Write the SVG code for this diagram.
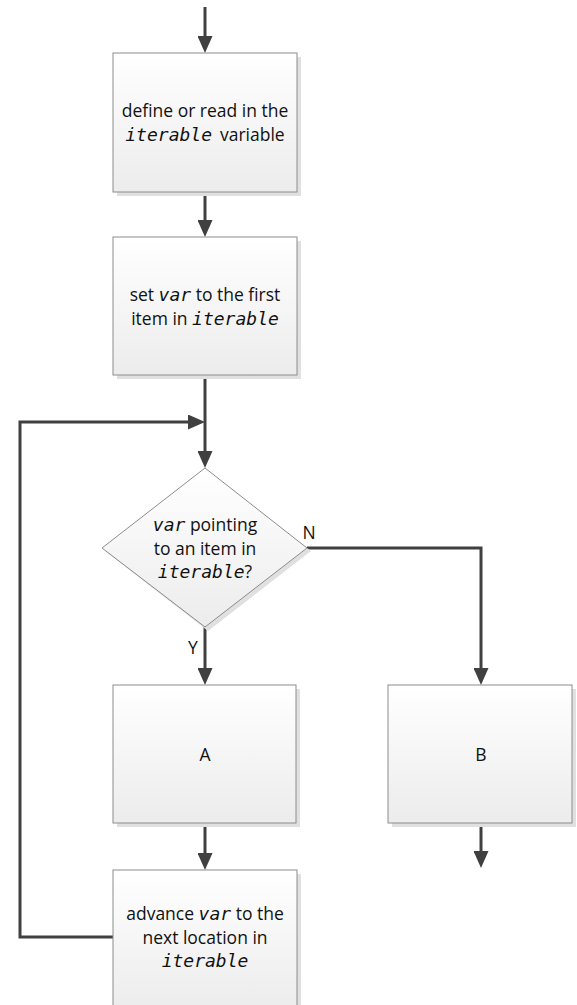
<svg xmlns="http://www.w3.org/2000/svg" width="577" height="1005" viewBox="0 0 577 1005">
  <style>
    .box { fill: url(#boxFill); stroke: #8c8c8c; stroke-width: 1; }
    .shadow { fill: #e0e0e0; }
    .wire { fill: none; stroke: #404040; stroke-width: 3; }
    .lbl { font-family: "Open Sans", "Liberation Sans", Arial, sans-serif; font-size: 17.5px; fill: #111; text-anchor: middle; }
    .code { font-family: "DejaVu Sans Mono", "Liberation Mono", monospace; font-size: 18px; font-style: italic; }
  </style>
  <defs>
    <linearGradient id="boxFill" x1="0" y1="0" x2="0" y2="1">
      <stop offset="0" stop-color="#ffffff"/>
      <stop offset="1" stop-color="#ececec"/>
    </linearGradient>
    <marker id="head" markerUnits="userSpaceOnUse" markerWidth="17" markerHeight="15" refX="7" refY="7.5" orient="auto">
      <path d="M0,0 L17,7.5 L0,15 z" fill="#404040"/>
    </marker>
  </defs>

  <g id="connectors">
    <path class="wire" d="M205,7 V43" marker-end="url(#head)"/>
    <path class="wire" d="M205,192 V227" marker-end="url(#head)"/>
    <path class="wire" d="M205,375 V458" marker-end="url(#head)"/>
    <path class="wire" d="M113,937 H20 V422 H195" marker-end="url(#head)"/>
    <path class="wire" d="M205,627 V675" marker-end="url(#head)"/>
    <path class="wire" d="M307,548 H481 V675" marker-end="url(#head)"/>
    <path class="wire" d="M205,823 V860" marker-end="url(#head)"/>
    <path class="wire" d="M481,823 V858" marker-end="url(#head)"/>
    <text class="lbl" x="193" y="654">Y</text>
    <text class="lbl" x="309" y="539">N</text>
  </g>

  <g id="read-iterable">
    <rect class="shadow" x="117" y="57" width="184" height="139"/>
    <rect class="box" x="113" y="53" width="184" height="139"/>
    <text class="lbl" x="205" y="117">define or read in the</text>
    <text class="lbl" x="205" y="141"><tspan class="code">iterable</tspan><tspan dx="8">variable</tspan></text>
  </g>

  <g id="set-first">
    <rect class="shadow" x="117" y="241" width="184" height="138"/>
    <rect class="box" x="113" y="237" width="184" height="138"/>
    <text class="lbl" x="205" y="301">set <tspan class="code">var</tspan> to the first</text>
    <text class="lbl" x="205" y="325">item in <tspan class="code">iterable</tspan></text>
  </g>

  <g id="test-item">
    <polygon class="shadow" points="208,472 311,551 208,631 105,551"/>
    <polygon class="box" points="205,468 307,548 205,627 102,548"/>
    <text class="lbl" x="205" y="531"><tspan class="code">var</tspan> pointing</text>
    <text class="lbl" x="205" y="555">to an item in</text>
    <text class="lbl" x="205" y="578"><tspan class="code">iterable</tspan>?</text>
  </g>

  <g id="step-a">
    <rect class="shadow" x="117" y="689" width="183" height="138"/>
    <rect class="box" x="113" y="685" width="183" height="138"/>
    <text class="lbl" x="205" y="761">A</text>
  </g>

  <g id="step-b">
    <rect class="shadow" x="392" y="689" width="184" height="138"/>
    <rect class="box" x="388" y="685" width="184" height="138"/>
    <text class="lbl" x="481" y="761">B</text>
  </g>

  <g id="advance">
    <rect class="shadow" x="117" y="874" width="184" height="140"/>
    <rect class="box" x="113" y="870" width="184" height="140"/>
    <text class="lbl" x="205" y="920">advance <tspan class="code">var</tspan> to the</text>
    <text class="lbl" x="205" y="944">next location in</text>
    <text class="lbl" x="205" y="967"><tspan class="code">iterable</tspan></text>
  </g>
</svg>
